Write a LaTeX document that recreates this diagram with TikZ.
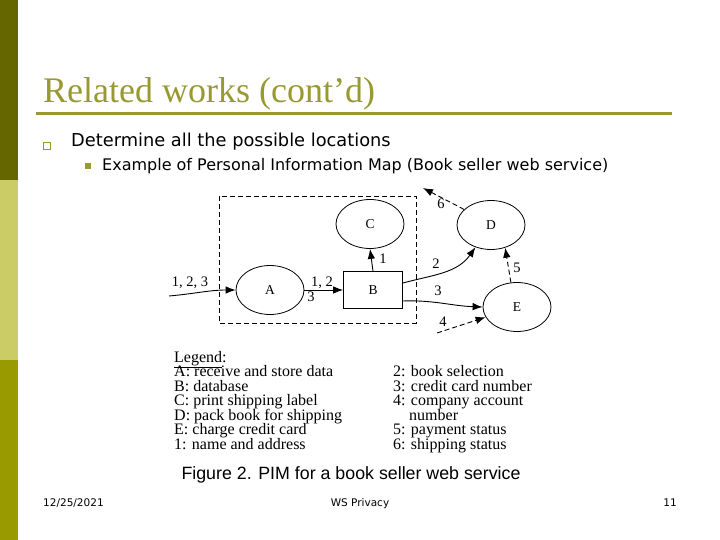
\documentclass[tikz,border=0pt]{standalone}
\usepackage{fontspec}
\setmainfont{Liberation Serif}
\newfontfamily\bodyfont{DejaVu Sans}
\newfontfamily\capfont{Liberation Sans}
\usetikzlibrary{arrows.meta,shapes.geometric}
\definecolor{barA}{HTML}{666600}
\definecolor{barB}{HTML}{CCCC66}
\definecolor{barC}{HTML}{999900}
\definecolor{titlecol}{HTML}{999933}
\begin{document}
\begin{tikzpicture}[x=1pt,y=-1pt,
  ell/.style={draw,ellipse,minimum width=68pt,minimum height=49pt,inner sep=0pt,line width=0.8pt,font=\fontsize{13.5}{15}\selectfont},
  boxn/.style={draw,rectangle,minimum width=59pt,minimum height=37pt,inner sep=0pt,line width=0.8pt,font=\fontsize{13.5}{15}\selectfont},
  arr/.style={-{Latex[length=10pt,width=7.5pt]},line width=0.9pt},
  dsh/.style={dash pattern=on 5pt off 3pt},
  lbl/.style={inner sep=0pt,font=\fontsize{14.5}{16}\selectfont},
  leg/.style={anchor=base west,inner sep=0pt,font=\fontsize{16}{17}\selectfont}]
\useasboundingbox (0,0) rectangle (720,540);
\fill[white] (0,0) rectangle (720,540);
% left bar
\fill[barA] (0,0) rectangle (18,180);
\fill[barB] (0,180) rectangle (18,360);
\fill[barC] (0,360) rectangle (18,540);
% title
\node[anchor=base west,inner sep=0pt,text=titlecol,font=\fontsize{36}{40}\selectfont] (title) at (43,103) {Related works (cont’d)};
\draw[titlecol,line width=3pt] (36,114) -- (672,114);
% bullets
\node[draw=titlecol,line width=1pt,minimum size=7pt,inner sep=0pt] (b1) at (47,146) {};
\node[anchor=base west,inner sep=0pt,font=\bodyfont\fontsize{17.8}{20}\selectfont] (t1) at (71,147) {Determine all the possible locations};
\node[fill=titlecol,minimum size=6pt,inner sep=0pt] (b2) at (88,166) {};
\node[anchor=base west,inner sep=0pt,font=\bodyfont\fontsize{16}{18}\selectfont] (t2) at (102,171) {Example of Personal Information Map (Book seller web service)};
% diagram
\draw[dsh,line width=0.9pt] (219,196) rectangle (416,323);
\node[ell] (C) at (370,224) {C};
\node[ell] (D) at (491,225) {D};
\node[ell] (A) at (270,290) {A};
\node[boxn] (B) at (373,290) {B};
\node[ell] (E) at (517,307) {E};
\coordinate (in1) at (169,296);
\coordinate (in4) at (437,333);
\coordinate (out6) at (423,188);
\draw[arr] (in1) to[out=5,in=180] (A.west);
\draw[arr] (A.east) -- (B.west);
\draw[arr] (B.north) -- (C.south);
\draw[arr] ([yshift=7pt]B.east) to[out=15,in=235] (D.235);
\draw[arr] ([yshift=-11pt]B.east) to[out=2,in=178] (E.west);
\draw[arr,dsh] (E.104) -- (D.302);
\draw[arr,dsh] (D.150) -- (out6);
\draw[arr,dsh] (in4) -- (E.198);
\node[lbl] (l123) at (190,283) {1, 2, 3};
\node[lbl] (l12) at (322,283) {1, 2};
\node[lbl] (l3a) at (311,297) {3};
\node[lbl] (l1) at (383,259) {1};
\node[lbl] (l2) at (436,264) {2};
\node[lbl] (l3b) at (438,291) {3};
\node[lbl] (l5) at (517,268) {5};
\node[lbl] (l6) at (441,204) {6};
\node[lbl] (l4) at (443,322) {4};
% legend
\node[leg] (lg) at (174,362) {\underline{Legend}:};
\node[leg] (la) at (174,376.5) {A: receive and store data};
\node[leg] (lb) at (174,391) {B: database};
\node[leg] (lc) at (174,405.5) {C: print shipping label};
\node[leg] (ld) at (174,420) {D: pack book for shipping};
\node[leg] (le) at (174,434.5) {E: charge credit card};
\node[leg] (lf) at (174,449) {1: name and address};
\node[leg] (r2) at (393,376.5) {2: book selection};
\node[leg] (r3) at (393,391) {3: credit card number};
\node[leg] (r4) at (393,405.5) {4: company account};
\node[leg] (r4b) at (409,420) {number};
\node[leg] (r5) at (393,434.5) {5: payment status};
\node[leg] (r6) at (393,449) {6: shipping status};
% caption
\node[inner sep=0pt,anchor=base,font=\capfont\fontsize{17.8}{20}\selectfont] (cap) at (351,479) {Figure 2. PIM for a book seller web service};
% footer
\node[anchor=base west,inner sep=0pt,font=\bodyfont\fontsize{10.5}{12}\selectfont] (date) at (43,506) {12/25/2021};
\node[anchor=base,inner sep=0pt,font=\bodyfont\fontsize{10.5}{12}\selectfont] (ws) at (360,506) {WS Privacy};
\node[anchor=base east,inner sep=0pt,font=\bodyfont\fontsize{10.5}{12}\selectfont] (pg) at (677,506) {11};
\end{tikzpicture}
\end{document}
